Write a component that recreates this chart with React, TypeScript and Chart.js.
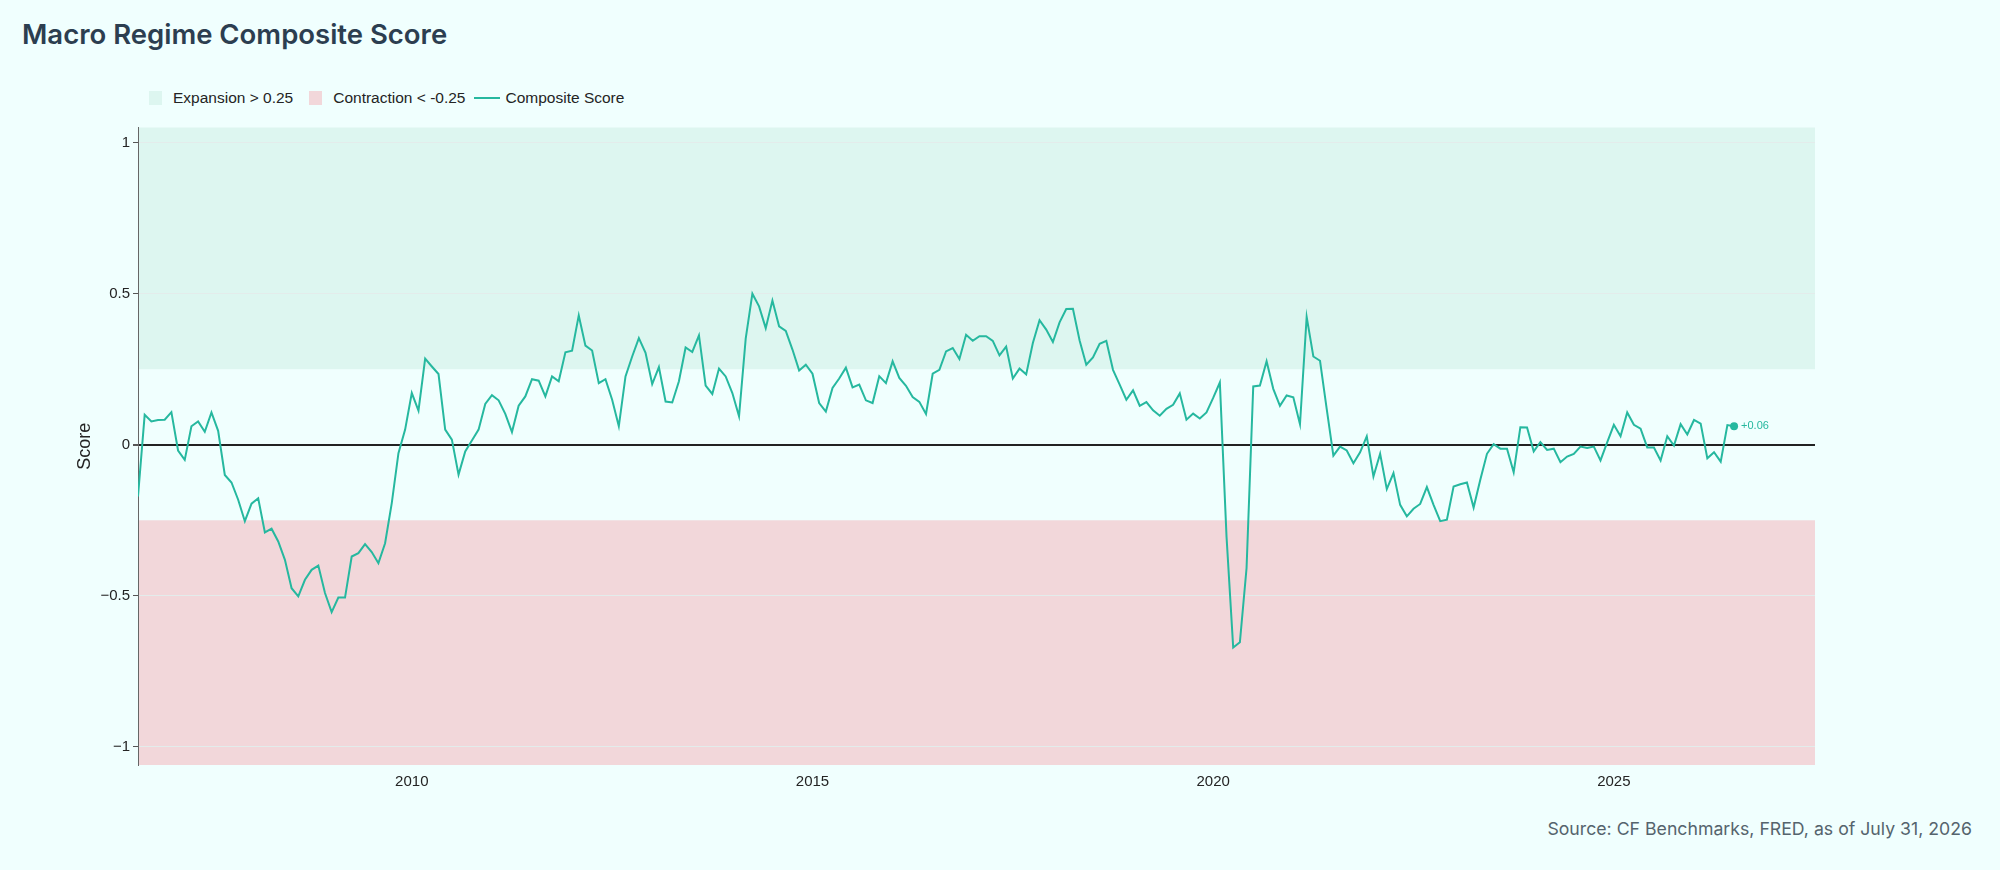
import React, { useEffect, useRef } from 'react';
import { Chart, registerables } from 'chart.js';

Chart.register(...registerables);

// monthly series, first point = Aug 2006
const startYear = 2006;
const startMonth = 8;

const scores2006to2010 = [
  -0.171, 0.099, 0.077, 0.082, 0.083, 0.108, -0.019, -0.05, 0.061, 0.077, 0.043, 0.107,
  0.046, -0.1, -0.125, -0.182, -0.253, -0.195, -0.177, -0.29, -0.278, -0.32, -0.381, -0.475,
  -0.502, -0.447, -0.414, -0.4, -0.491, -0.554, -0.506, -0.506, -0.37, -0.359, -0.329, -0.355,
  -0.392, -0.326, -0.193, -0.028, 0.05, 0.171, 0.113, 0.285, 0.259, 0.234, 0.05, 0.017,
];
const scores2010to2014 = [
  -0.099, -0.022, 0.014, 0.05, 0.135, 0.164, 0.147, 0.102, 0.042, 0.129, 0.16, 0.217,
  0.212, 0.16, 0.226, 0.21, 0.306, 0.311, 0.428, 0.328, 0.312, 0.204, 0.217, 0.149,
  0.061, 0.226, 0.292, 0.353, 0.304, 0.201, 0.257, 0.143, 0.14, 0.21, 0.322, 0.307,
  0.362, 0.196, 0.168, 0.252, 0.226, 0.171, 0.094, 0.351, 0.5, 0.458, 0.386, 0.477,
];
const scores2014to2018 = [
  0.392, 0.377, 0.315, 0.246, 0.265, 0.235, 0.138, 0.11, 0.188, 0.219, 0.255, 0.19,
  0.199, 0.147, 0.138, 0.227, 0.204, 0.276, 0.221, 0.195, 0.158, 0.142, 0.102, 0.235,
  0.248, 0.309, 0.32, 0.284, 0.364, 0.344, 0.359, 0.359, 0.344, 0.296, 0.325, 0.219,
  0.252, 0.233, 0.337, 0.412, 0.381, 0.34, 0.405, 0.449, 0.45, 0.345, 0.265, 0.289,
];
const scores2018to2022 = [
  0.334, 0.344, 0.248, 0.199, 0.149, 0.18, 0.129, 0.141, 0.114, 0.096, 0.119, 0.132,
  0.17, 0.083, 0.103, 0.087, 0.107, 0.155, 0.206, -0.304, -0.671, -0.654, -0.408, 0.193,
  0.196, 0.276, 0.185, 0.129, 0.163, 0.157, 0.068, 0.423, 0.292, 0.278, 0.119, -0.036,
  -0.006, -0.019, -0.061, -0.025, 0.028, -0.105, -0.03, -0.147, -0.094, -0.199, -0.237, -0.212,
];
const scores2022to2026 = [
  -0.196, -0.14, -0.199, -0.253, -0.248, -0.138, -0.131, -0.125, -0.208, -0.116, -0.03, 0.002,
  -0.013, -0.013, -0.091, 0.058, 0.057, -0.022, 0.009, -0.017, -0.013, -0.058, -0.039, -0.03,
  -0.006, -0.011, -0.006, -0.052, 0.008, 0.066, 0.028, 0.107, 0.066, 0.053, -0.009, -0.009,
  -0.052, 0.028, -0.003, 0.068, 0.034, 0.082, 0.07, -0.045, -0.025, -0.056, 0.065, 0.061,
];

const xTicks = [2010, 2015, 2020, 2025];
const yTicks = [-1, -0.5, 0, 0.5, 1];
const expansionLevel = 0.25;
const contractionLevel = -0.25;

const scores = [
  ...scores2006to2010,
  ...scores2010to2014,
  ...scores2014to2018,
  ...scores2018to2022,
  ...scores2022to2026,
];
const points = scores.map((v, i) => ({ x: startYear + (startMonth - 1 + i) / 12, y: v }));

const TEAL = '#26b89f';
const EXP_FILL = '#ddf6f0';
const CON_FILL = '#f2d7da';
const BG = '#f0fffe';
const SANS = '"Liberation Sans", Arial, Helvetica, sans-serif';
const HEAD = 'Inter, "Open Sans", sans-serif';

const bandsPlugin = {
  id: 'regimeBands',
  beforeDraw(chart: any) {
    const { ctx, chartArea, scales } = chart;
    const yExp = scales.y.getPixelForValue(expansionLevel);
    const yCon = scales.y.getPixelForValue(contractionLevel);
    ctx.save();
    ctx.fillStyle = EXP_FILL;
    ctx.fillRect(chartArea.left, chartArea.top, chartArea.width, yExp - chartArea.top);
    ctx.fillStyle = CON_FILL;
    ctx.fillRect(chartArea.left, yCon, chartArea.width, chartArea.bottom - yCon);
    ctx.restore();
  },
};

const lastLabelPlugin = {
  id: 'lastLabel',
  afterDatasetsDraw(chart: any) {
    const meta = chart.getDatasetMeta(0);
    const pt = meta.data[meta.data.length - 1];
    const v = scores[scores.length - 1];
    const { ctx } = chart;
    ctx.save();
    ctx.fillStyle = TEAL;
    ctx.font = `11px ${SANS}`;
    ctx.textBaseline = 'middle';
    ctx.fillText((v >= 0 ? '+' : '') + v.toFixed(2), pt.x + 7, pt.y);
    ctx.restore();
  },
};

const App: React.FC = () => {
  const chartRef = useRef<HTMLCanvasElement>(null);
  const chartInstance = useRef<Chart | null>(null);

  useEffect(() => {
    document.body.style.margin = '0';
    document.body.style.background = BG;
    if (!chartRef.current) return;
    if (chartInstance.current) chartInstance.current.destroy();
    const ctx = chartRef.current.getContext('2d');
    if (!ctx) return;

    chartInstance.current = new Chart(ctx, {
      type: 'line',
      data: {
        datasets: [
          {
            label: 'Composite Score',
            data: points,
            borderColor: TEAL,
            backgroundColor: TEAL,
            borderWidth: 2,
            tension: 0,
            pointRadius: (c: any) => (c.dataIndex === scores.length - 1 ? 4 : 0),
            pointBorderWidth: 0,
          },
        ],
      },
      options: {
        animation: false,
        responsive: true,
        maintainAspectRatio: false,
        layout: { padding: { top: 17.5, right: 15, bottom: 0, left: 0 } },
        plugins: { legend: { display: false }, tooltip: { enabled: false } },
        scales: {
          x: {
            type: 'linear',
            min: points[0].x,
            max: 2027.51,
            afterBuildTicks: (s: any) => {
              s.ticks = xTicks.map((v) => ({ value: v }));
            },
            afterFit: (s: any) => {
              s.height = 45;
            },
            grid: { display: false },
            border: { display: false },
            ticks: {
              padding: 0,
              color: '#242424',
              font: { family: SANS, size: 15 },
              callback: (v: any) => String(v),
              maxRotation: 0,
            },
          },
          y: {
            min: -1.06,
            max: 1.05,
            afterBuildTicks: (s: any) => {
              s.ticks = yTicks.map((v) => ({ value: v }));
            },
            afterFit: (s: any) => {
              s.width = 138;
            },
            grid: {
              color: (c: any) => (c.tick && c.tick.value === 0 ? '#222222' : '#e3eceb'),
              lineWidth: (c: any) => (c.tick && c.tick.value === 0 ? 2 : 1),
              tickColor: '#555555',
              tickLength: 5,
            },
            border: { display: true, color: '#666666', width: 1 },
            ticks: {
              padding: 3,
              color: '#242424',
              font: { family: SANS, size: 15 },
              callback: (v: any) => (v < 0 ? '\u2212' + Math.abs(v) : String(v)),
            },
            title: {
              display: true,
              text: 'Score',
              color: '#242424',
              font: { family: SANS, size: 18 },
              padding: { top: 74, bottom: 0 },
            },
          },
        },
      },
      plugins: [bandsPlugin, lastLabelPlugin],
    } as any);

    return () => {
      if (chartInstance.current) {
        chartInstance.current.destroy();
        chartInstance.current = null;
      }
    };
  }, []);

  const swatch = (bg: string) => (
    <span style={{ display: 'inline-block', width: 13, height: 14, background: bg, marginRight: 11 }} />
  );

  return (
    <div style={{ position: 'relative', width: 2000, height: 870, background: BG, overflow: 'hidden' }}>
      <div
        style={{
          position: 'absolute',
          left: 22,
          top: 20,
          fontFamily: HEAD,
          fontWeight: 600,
          fontSize: 27.5,
          lineHeight: '28px',
          color: '#2c3e50',
          whiteSpace: 'nowrap',
        }}
      >
        Macro Regime Composite Score
      </div>

      <div
        style={{
          position: 'absolute',
          left: 149,
          top: 90,
          height: 16,
          display: 'flex',
          alignItems: 'center',
          fontFamily: SANS,
          fontSize: 15.5,
          color: '#242424',
          whiteSpace: 'nowrap',
        }}
      >
        {swatch(EXP_FILL)}
        <span style={{ marginRight: 16 }}>Expansion &gt; 0.25</span>
        {swatch(CON_FILL)}
        <span style={{ marginRight: 9 }}>Contraction &lt; -0.25</span>
        <span style={{ display: 'inline-block', width: 26, height: 2, background: TEAL, marginRight: 5 }} />
        <span>Composite Score</span>
      </div>

      <div style={{ position: 'absolute', left: 0, top: 110, width: 1830, height: 700 }}>
        <canvas ref={chartRef} />
      </div>

      <div
        style={{
          position: 'absolute',
          right: 28,
          top: 818,
          fontFamily: HEAD,
          fontSize: 17.7,
          lineHeight: '21px',
          color: '#55646d',
          whiteSpace: 'nowrap',
        }}
      >
        Source: CF Benchmarks, FRED, as of July 31, 2026
      </div>
    </div>
  );
};

export default App;
